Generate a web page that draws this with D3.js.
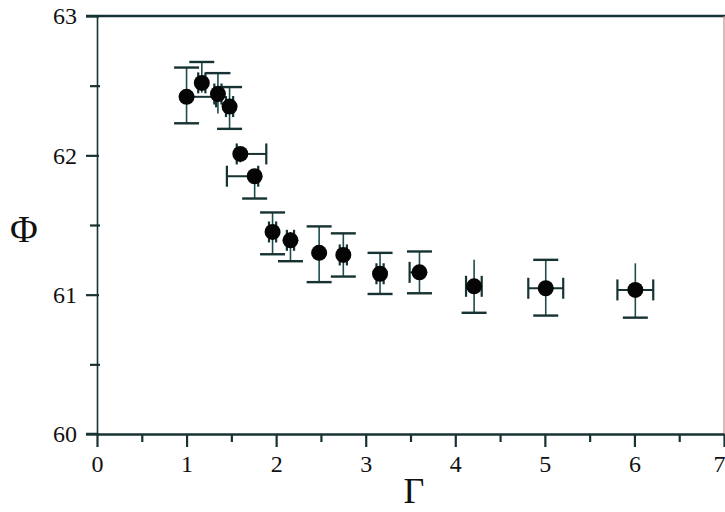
<!DOCTYPE html>
<html><head><meta charset="utf-8">
<script src="https://cdn.jsdelivr.net/npm/d3@7"></script>
<style>
html,body{margin:0;padding:0;background:#fff;}
svg{display:block;}
</style></head>
<body><svg id="c" width="725" height="512"></svg>
<script>
// Data
const gamma    = [1.00, 1.17, 1.35, 1.48, 1.60, 1.76, 1.96, 2.16, 2.48, 2.75, 3.16, 3.60, 4.21, 5.01, 6.01];
const phi      = [62.42, 62.52, 62.44, 62.35, 62.01, 61.85, 61.45, 61.39, 61.30, 61.285, 61.15, 61.16, 61.06, 61.046, 61.034];
const phiLo    = [62.23, 62.45, 62.30, 62.19, 61.95, 61.69, 61.29, 61.24, 61.09, 61.13, 61.005, 61.01, 60.87, 60.85, 60.835];
const phiHi    = [62.63, 62.67, 62.59, 62.49, 62.06, 61.90, 61.59, 61.45, 61.49, 61.44, 61.30, 61.31, 61.25, 61.25, 61.225];
const gammaLo  = [1.00, 1.13, 1.31, 1.44, 1.56, 1.45, 1.92, 2.12, 2.48, 2.71, 3.12, 3.49, 4.12, 4.815, 5.81];
const gammaHi  = [1.33, 1.21, 1.39, 1.52, 1.89, 1.80, 2.00, 2.20, 2.48, 2.79, 3.20, 3.60, 4.295, 5.205, 6.21];
const showPhiLoCap = [true, false, false, true, false, true, true, true, true, true, true, true, true, true, true];
const showPhiHiCap = [true, true, true, true, false, false, true, false, true, true, true, true, false, true, false];
const xMajor = [0,1,2,3,4,5,6,7];
const xMinor = [0.5,1.5,2.5,3.5,4.5,5.5,6.5];
const yMajor = [60,61,62,63];
const yMinor = [60.5,61.5,62.5];

const svg = d3.select("#c");
const x = d3.scaleLinear().domain([0,7]).range([97,724]);
const y = d3.scaleLinear().domain([60,63]).range([434,16]);
const font = "'Liberation Serif','Times New Roman',serif";
const ink = "#163232";

// frame
svg.append("line").attr("x1",86).attr("x2",725).attr("y1",y(63)).attr("y2",y(63))
  .attr("stroke",ink).attr("stroke-width",2.5);
svg.append("line").attr("x1",x(7)).attr("x2",x(7)).attr("y1",y(63)).attr("y2",y(60))
  .attr("stroke","#c98a8a").attr("stroke-width",1.2);

// y axis
const yAx = svg.append("g").attr("transform",`translate(${x(0)},0)`)
  .call(d3.axisLeft(y).tickValues(yMajor).tickSize(11).tickSizeOuter(0).tickPadding(9).tickFormat(d3.format("d")));
const yAxMin = svg.append("g").attr("transform",`translate(${x(0)},0)`)
  .call(d3.axisLeft(y).tickValues(yMinor).tickSize(7).tickSizeOuter(0).tickFormat(""));
// x axis
const xAx = svg.append("g").attr("transform",`translate(0,${y(60)})`)
  .call(d3.axisBottom(x).tickValues(xMajor).tickSize(13).tickSizeOuter(0).tickPadding(8).tickFormat(d3.format("d")));
const xAxMin = svg.append("g").attr("transform",`translate(0,${y(60)})`)
  .call(d3.axisBottom(x).tickValues(xMinor).tickSize(8).tickSizeOuter(0).tickFormat(""));

[yAx,yAxMin,xAx,xAxMin].forEach(g=>{
  g.selectAll("line").attr("stroke",ink).attr("stroke-width",2.2);
  g.selectAll("text").attr("fill","#111").style("font-family",font).style("font-size","24px");
});
// keep the last x label inside the window
xAx.selectAll(".tick text").filter(d=>d===7).attr("text-anchor","end").attr("x",1);
yAx.select(".domain").attr("stroke",ink).attr("stroke-width",1.6);
yAxMin.select(".domain").remove();
xAxMin.select(".domain").remove();
xAx.select(".domain").attr("stroke",ink).attr("stroke-width",2.5);
// extend bottom axis line left (like the reference)
svg.append("line").attr("x1",86).attr("x2",x(0)).attr("y1",y(60)).attr("y2",y(60))
  .attr("stroke",ink).attr("stroke-width",2.5);
yAx.selectAll(".tick line").attr("x2",-11).attr("x1",2);
yAxMin.selectAll(".tick line").attr("x2",-7).attr("x1",3);

// axis titles
svg.append("text").attr("x",24).attr("y",242).attr("text-anchor","middle")
  .style("font-family",font).style("font-size","38px").attr("fill","#111").text("Φ");
svg.append("text").attr("x",414).attr("y",503).attr("text-anchor","middle")
  .style("font-family",font).style("font-size","36px").attr("fill","#111").text("Γ");

// error bars
const idx = d3.range(gamma.length);
const eb = svg.append("g");
const capW = 12.5, capH = 10.5;
idx.forEach(i=>{
  const cx = x(gamma[i]), cy = y(phi[i]);
  // vertical stem
  eb.append("line").attr("x1",cx).attr("x2",cx).attr("y1",y(phiLo[i])).attr("y2",y(phiHi[i]))
    .attr("stroke","#1f4c4c").attr("stroke-width",1.6);
  if (showPhiHiCap[i]) eb.append("line").attr("x1",cx-capW).attr("x2",cx+capW)
    .attr("y1",y(phiHi[i])).attr("y2",y(phiHi[i])).attr("stroke",ink).attr("stroke-width",2.4);
  if (showPhiLoCap[i]) eb.append("line").attr("x1",cx-capW).attr("x2",cx+capW)
    .attr("y1",y(phiLo[i])).attr("y2",y(phiLo[i])).attr("stroke",ink).attr("stroke-width",2.4);
  // horizontal stem
  eb.append("line").attr("x1",x(gammaLo[i])).attr("x2",x(gammaHi[i])).attr("y1",cy).attr("y2",cy)
    .attr("stroke",ink).attr("stroke-width",2);
  [gammaLo[i],gammaHi[i]].forEach(g=>{
    if (g === gamma[i]) return;
    eb.append("line").attr("x1",x(g)).attr("x2",x(g)).attr("y1",cy-capH).attr("y2",cy+capH)
      .attr("stroke",ink).attr("stroke-width",2.2);
  });
});

// markers
svg.append("g").selectAll("circle").data(idx).join("circle")
  .attr("cx",i=>x(gamma[i])).attr("cy",i=>y(phi[i])).attr("r",8).attr("fill","#050505");
</script></body></html>
